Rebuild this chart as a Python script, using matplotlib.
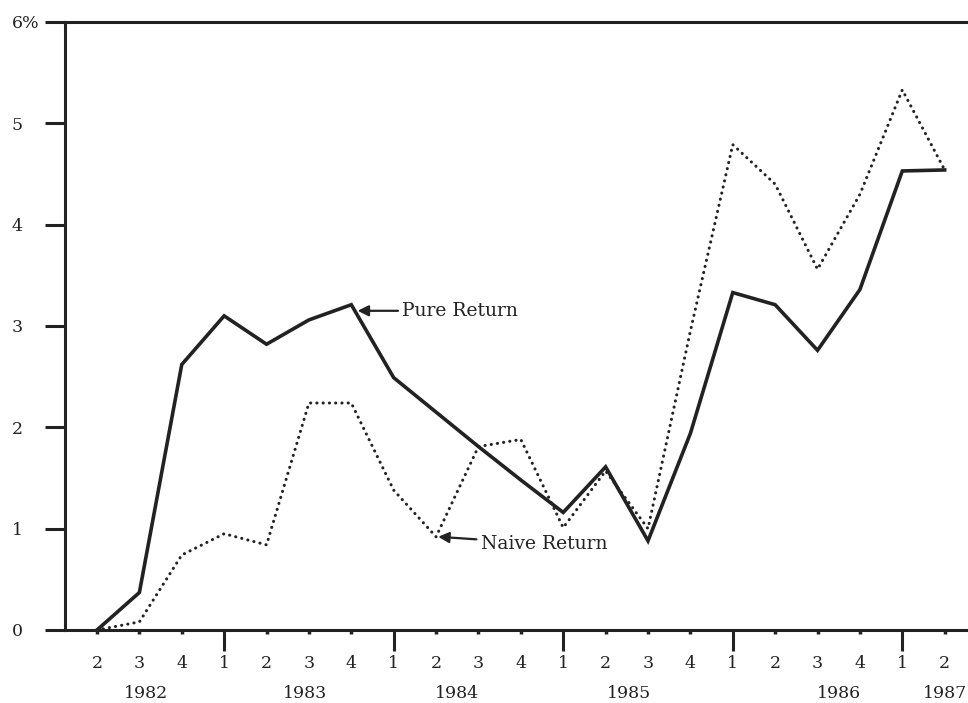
import matplotlib
matplotlib.use("Agg")
import matplotlib.pyplot as plt
from matplotlib.transforms import blended_transform_factory

# quarterly data, 1982 Q2 .. 1987 Q2
quarters = [2, 3, 4, 1, 2, 3, 4, 1, 2, 3, 4, 1, 2, 3, 4, 1, 2, 3, 4, 1, 2]
pure_return = [0.0, 0.37, 2.62, 3.10, 2.82, 3.06, 3.21, 2.49, 2.15, 1.81, 1.48,
               1.16, 1.61, 0.88, 1.94, 3.33, 3.21, 2.76, 3.36, 4.53, 4.54]
naive_return = [0.0, 0.08, 0.74, 0.95, 0.84, 2.24, 2.24, 1.38, 0.92, 1.81, 1.88,
                1.01, 1.57, 1.0, 2.95, 4.79, 4.40, 3.56, 4.30, 5.33, 4.54]
years = ["1982", "1983", "1984", "1985", "1986", "1987"]
year_pos = [1.15, 4.9, 8.5, 12.55, 17.5, 20.0]
y_ticks = [0, 1, 2, 3, 4, 5, 6]
y_labels = ["0", "1", "2", "3", "4", "5", "6%"]

plt.rcParams['font.family'] = ['DejaVu Serif']
ink = "#222222"
fs = 12.5

fig = plt.figure(figsize=(9.68, 7.03), dpi=100)
ax = fig.add_axes([65 / 968, 1 - 630 / 703, 1 - 65 / 968, 608 / 703])

x = list(range(len(quarters)))
ax.plot(x, pure_return, color=ink, lw=2.6, solid_joinstyle='miter', clip_on=False)
ax.plot(x, naive_return, color=ink, lw=2.2, linestyle=(0, (0.05, 2.0)),
        dash_capstyle='round', clip_on=False)

ax.set_xlim(-0.755, 20.55)
ax.set_ylim(0, 6)

for s in ['left', 'bottom', 'top']:
    ax.spines[s].set_linewidth(2.2)
    ax.spines[s].set_color(ink)
ax.spines['right'].set_visible(False)

# Q1 ticks are long, other quarters get small marks
major = [i for i, q in enumerate(quarters) if q == 1]
minor = [i for i, q in enumerate(quarters) if q != 1]
ax.set_xticks(major)
ax.set_xticklabels([str(quarters[i]) for i in major])
ax.set_xticks(minor, minor=True)
ax.set_xticklabels([str(quarters[i]) for i in minor], minor=True)
ax.tick_params(axis='x', which='major', direction='out', length=15, width=2.2,
               color=ink, pad=3, labelsize=fs, labelcolor=ink)
ax.tick_params(axis='x', which='minor', direction='out', length=3, width=2.5,
               color=ink, pad=15, labelsize=fs, labelcolor=ink)

ax.set_yticks(y_ticks)
ax.set_yticklabels(y_labels)
ax.tick_params(axis='y', direction='out', length=14.5, width=2.2, color=ink,
               pad=24, labelsize=fs, labelcolor=ink)
for lab in ax.get_yticklabels():
    lab.set_horizontalalignment('left')

trans = blended_transform_factory(ax.transData, ax.transAxes)
for yr, xp in zip(years, year_pos):
    ax.text(xp, -0.104, yr, transform=trans, ha='center', va='center',
            fontsize=fs, color=ink)

ax.annotate("Pure Return", xy=(6.15, 3.15), xytext=(7.2, 3.15),
            fontsize=13.5, color=ink, va='center', ha='left',
            arrowprops=dict(arrowstyle='-|>', color=ink, lw=1.6,
                            mutation_scale=16, shrinkA=1, shrinkB=0))
ax.annotate("Naive Return", xy=(8.05, 0.92), xytext=(9.05, 0.85),
            fontsize=13.5, color=ink, va='center', ha='left',
            arrowprops=dict(arrowstyle='-|>', color=ink, lw=1.6,
                            mutation_scale=16, shrinkA=1, shrinkB=0))

fig.savefig("out.png", dpi=100)
